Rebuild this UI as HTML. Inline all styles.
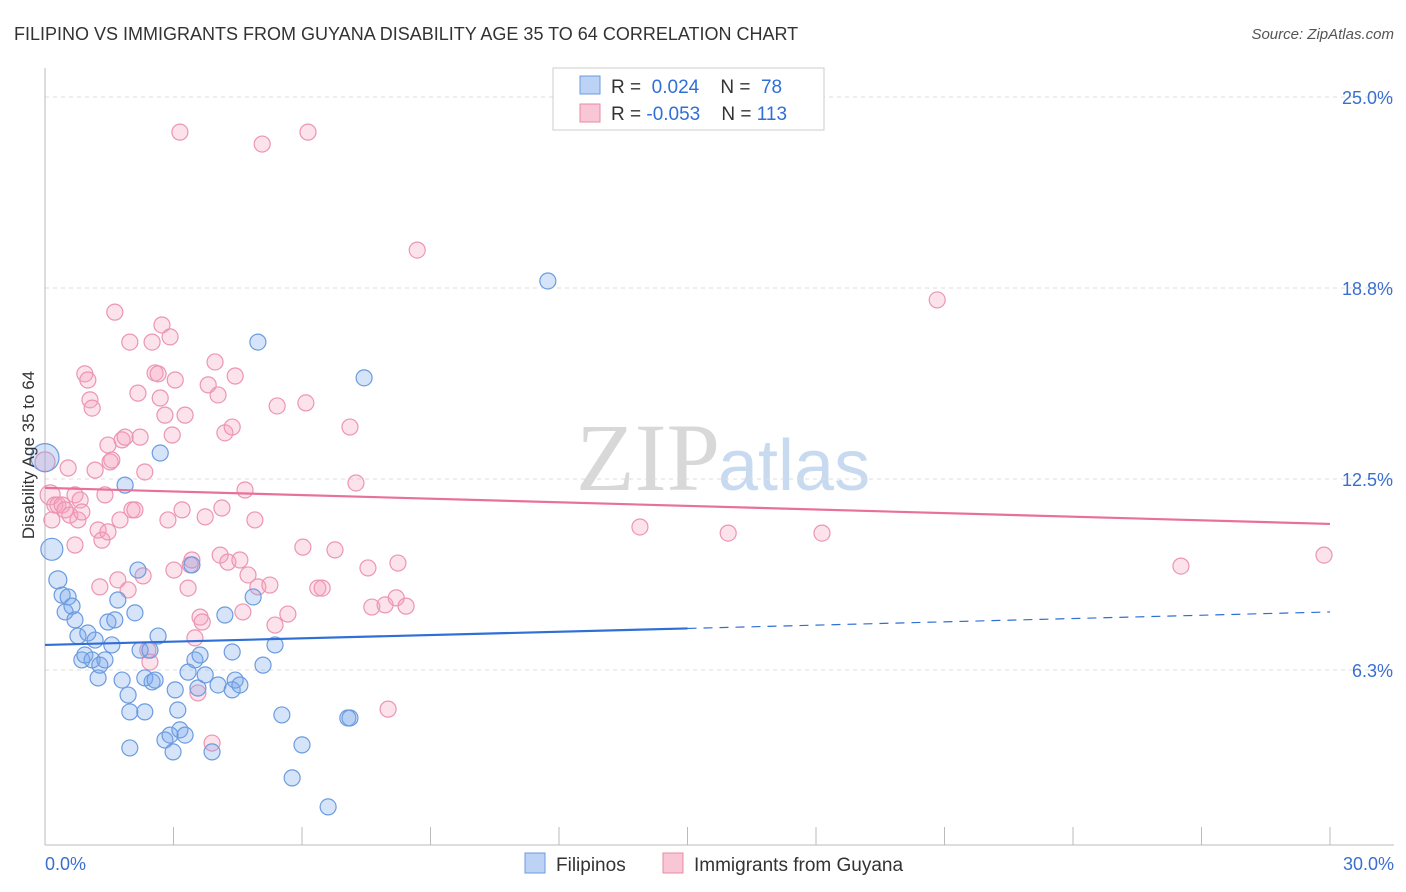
<!DOCTYPE html>
<html><head><meta charset="utf-8">
<style>
body{margin:0;background:#fff;font-family:"Liberation Sans",sans-serif;}
#wrap{position:relative;width:1406px;height:892px;overflow:hidden;}
</style></head>
<body>
<div id="wrap">
<svg id="chart" width="1406" height="892" xmlns="http://www.w3.org/2000/svg">
<text x="14" y="40" font-size="18" fill="#333">FILIPINO VS IMMIGRANTS FROM GUYANA DISABILITY AGE 35 TO 64 CORRELATION CHART</text>
<text x="1394" y="39" font-size="15" fill="#555" font-style="italic" text-anchor="end">Source: ZipAtlas.com</text>
<text x="720" y="490" font-size="96" fill="#d8d8d8" text-anchor="end" font-family="Liberation Serif">ZIP</text>
<text x="718" y="490" font-size="72" fill="#c8daf0">atlas</text>
<g id="grid"></g><g id="axes"></g><g id="pts"></g><g id="lines"></g>
<text transform="translate(34,455) rotate(-90)" font-size="17" fill="#333" text-anchor="middle">Disability Age 35 to 64</text>
<g>
<rect x="553" y="68" width="271" height="62" fill="#fff" stroke="#ccc"/>
<rect x="580" y="76" width="20" height="18" fill="#bcd3f5" stroke="#6b9be0"/>
<rect x="580" y="104" width="20" height="18" fill="#f9c6d6" stroke="#e88aa8"/>
<text x="611" y="93" font-size="19" fill="#333">R = <tspan fill="#2f6fd6">&#160;0.024</tspan>&#160;&#160;&#160;&#160;N = <tspan fill="#2f6fd6">&#160;78</tspan></text>
<text x="611" y="120" font-size="19" fill="#333">R = <tspan fill="#2f6fd6">-0.053</tspan>&#160;&#160;&#160;&#160;N = <tspan fill="#2f6fd6">113</tspan></text>
</g>
<g>
<rect x="525" y="853" width="20" height="20" fill="#bcd3f5" stroke="#6b9be0"/>
<text x="556" y="871" font-size="19" fill="#333">Filipinos</text>
<rect x="663" y="853" width="20" height="20" fill="#f9c6d6" stroke="#e88aa8"/>
<text x="694" y="871" font-size="19" fill="#333">Immigrants from Guyana</text>
</g>
</svg>
</div>
<script>
const yTicks=[25.0,18.8,12.5,6.3];
const yTickVals=[25,18.75,12.5,6.25];
const xTickLabels=["0.0%","30.0%"];
const blueX=[0,0.16,0.3,0.4,0.47,0.54,0.63,0.7,0.77,0.86,0.93,1.0,1.1,1.17,1.24,1.28,1.4,1.47,1.56,1.63,1.7,1.8,1.87,1.94,1.98,1.98,2.1,2.17,2.22,2.33,2.33,2.45,2.5,2.57,2.64,2.69,2.8,2.92,2.99,3.04,3.1,3.15,3.27,3.34,3.43,3.5,3.57,3.62,3.74,3.9,4.04,4.2,4.37,4.37,4.44,4.55,4.86,4.97,5.09,5.37,5.53,5.77,6.0,6.61,7.07,7.12,7.45,11.74];
const blueY=[13.2,10.2,9.2,8.7,8.15,8.64,8.34,7.89,7.36,6.58,6.74,7.46,6.58,7.23,5.99,6.41,6.58,7.82,7.07,7.89,8.54,5.92,12.3,5.43,4.88,3.7,8.12,9.52,6.9,4.88,5.99,6.9,5.86,5.92,7.36,13.35,3.96,4.12,3.57,5.6,4.94,4.29,4.12,6.18,9.69,6.58,5.66,6.74,6.09,3.57,5.76,8.05,5.6,6.84,5.92,5.76,8.64,16.98,6.41,7.07,4.78,2.72,3.8,1.77,4.68,4.68,15.81,18.98];
const blueR=[14,11,9];
const pinkX=[0,0.12,0.16,0.23,0.3,0.4,0.47,0.54,0.58,0.7,0.7,0.77,0.82,0.86,0.93,1.0,1.05,1.1,1.17,1.24,1.28,1.33,1.4,1.47,1.47,1.52,1.56,1.63,1.7,1.75,1.8,1.87,1.94,1.98,2.03,2.1,2.17,2.22,2.29,2.33,2.4,2.45,2.5,2.57,2.64,2.69,2.73,2.8,2.87,2.92,2.97,3.01,3.04,3.15,3.2,3.27,3.34,3.39,3.43,3.5,3.57,3.62,3.67,3.74,3.81,3.9,3.97,4.04,4.09,4.13,4.2,4.27,4.37,4.44,4.55,4.62,4.67,4.74,4.9,4.97,5.07,5.25,5.37,5.42,5.67,6.02,6.09,6.14,6.37,6.47,6.77,7.12,7.26,7.54,7.63,7.94,8.2,8.24,8.43,8.01,8.69,13.89,15.95,18.14,20.83,26.52,29.86];
const pinkY=[13.06,11.98,11.16,11.65,11.65,11.65,11.49,12.86,11.32,10.34,11.98,11.16,11.81,11.42,15.94,15.74,15.09,14.82,12.79,10.83,8.97,10.5,11.98,10.77,13.61,13.06,13.12,17.96,9.2,11.16,13.78,13.87,8.87,16.98,11.49,11.49,15.31,13.87,9.33,12.73,6.9,6.51,16.98,15.97,15.94,15.15,17.54,14.59,11.16,17.15,13.94,9.52,15.74,23.85,11.49,14.59,8.93,9.69,9.85,7.3,5.5,7.98,7.82,11.26,15.58,3.86,16.33,15.25,10.01,11.55,14.01,9.78,14.2,15.87,9.85,8.15,12.14,9.36,11.16,8.97,23.46,9.03,7.72,14.89,8.08,10.27,14.99,23.85,8.93,8.93,10.18,14.2,12.37,9.59,8.31,8.38,8.61,9.75,8.34,4.97,19.99,10.93,10.73,10.73,18.36,9.65,10.01];
const blueTrend=[7.07,8.15];
const pinkTrend=[12.21,11.03];
const NS='http://www.w3.org/2000/svg';
const X0=45,X1=1330,Y0=97,PX=(X1-X0)/30,PY=191/6.25;
function sx(v){return X0+v*PX;}
function sy(v){return Y0+(25-v)*PY;}
function mk(t,a,p){const e=document.createElementNS(NS,t);for(const k in a)e.setAttribute(k,a[k]);p.appendChild(e);return e;}
const grid=document.getElementById('grid'),axes=document.getElementById('axes');
yTickVals.forEach((v,i)=>{
  const l=mk('line',{x1:X0,x2:1394,y1:sy(v),y2:sy(v),stroke:'#ddd','stroke-dasharray':'4,4'},grid);
  
  
  const t=mk('text',{x:1393,y:sy(v)+7,'font-size':18,fill:'#3a6fd0','text-anchor':'end'},axes);
  t.textContent=yTicks[i].toFixed(1)+'%';
  
  
});
const ax=mk('line',{x1:X0,x2:1394,y1:845,y2:845,stroke:'#bbb'},axes);


const ay=mk('line',{x1:X0,x2:X0,y1:68,y2:845,stroke:'#bbb'},axes);


for(let i=0;i<=10;i++){
  const tk=mk('line',{x1:sx(i*3),x2:sx(i*3),y1:827,y2:845,stroke:'#bbb'},axes);
  
  
}
[[0,'start',X0],[1,'end',1394]].forEach(([i,a,x])=>{
  const t=mk('text',{x:x,y:870,'font-size':18,fill:'#3a6fd0','text-anchor':a},axes);
  t.textContent=xTickLabels[i];
  
  
});
const pts=document.getElementById('pts');
pinkX.forEach((x,i)=>{
  const c=mk('circle',{cx:sx(x),cy:sy(pinkY[i]),r:i<2?10:8,fill:'rgba(244,160,190,0.3)',stroke:'#ec95b2','stroke-width':1.2},pts);
  
  
});
blueX.forEach((x,i)=>{
  const c=mk('circle',{cx:sx(x),cy:sy(blueY[i]),r:blueR[i]||8,fill:'rgba(120,165,235,0.3)',stroke:'#6b9be0','stroke-width':1.2},pts);
  
  
});
const lines=document.getElementById('lines');
const bm=blueTrend[0]+(blueTrend[1]-blueTrend[0])*0.5;
const b1=mk('line',{x1:sx(0),y1:sy(blueTrend[0]),x2:sx(15),y2:sy(bm),stroke:'#2f6fd6','stroke-width':2.2},lines);


const b2=mk('line',{x1:sx(15),y1:sy(bm),x2:sx(30),y2:sy(blueTrend[1]),stroke:'#2f6fd6','stroke-width':1.2,'stroke-dasharray':'9,7'},lines);


const p1=mk('line',{x1:sx(0),y1:sy(pinkTrend[0]),x2:sx(30),y2:sy(pinkTrend[1]),stroke:'#e8709a','stroke-width':2.2},lines);


</script>
</body></html>
